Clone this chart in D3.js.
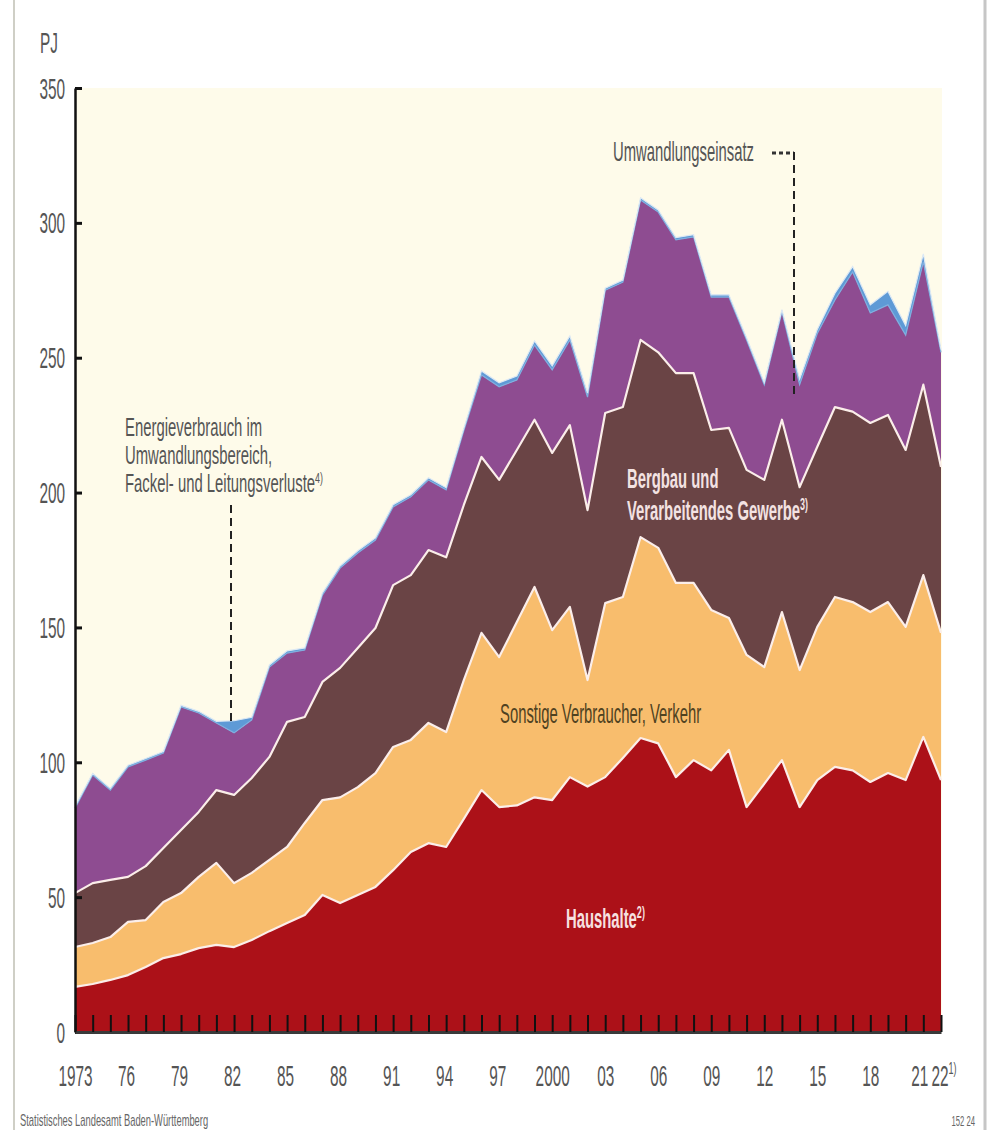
<!DOCTYPE html>
<html><head><meta charset="utf-8">
<script src="https://cdn.jsdelivr.net/npm/d3@7"></script>
<style>html,body{margin:0;padding:0;background:#fff;} svg{display:block;}</style>
</head><body>
<svg id="chart" width="987" height="1130"></svg>
<script>
// ---------- DATA ----------
const years = [1973,1974,1975,1976,1977,1978,1979,1980,1981,1982,
  1983,1984,1985,1986,1987,1988,1989,1990,1991,1992,
  1993,1994,1995,1996,1997,1998,1999,2000,2001,2002,
  2003,2004,2005,2006,2007,2008,2009,2010,2011,2012,
  2013,2014,2015,2016,2017,2018,2019,2020,2021,2022];
// PJ per series (stacked from bottom to top)
const haushalte = [16.7,17.8,19.3,21.1,24.1,27.4,28.9,31.1,32.3,31.5,
  34.1,37.4,40.4,43.4,50.8,47.8,50.8,53.8,60.0,66.7,
  70.0,68.6,79.0,89.7,83.4,84.0,87.0,86.0,94.5,91.0,
  94.5,101.6,109.0,107.0,94.5,100.8,97.0,104.6,83.4,92.0,
  100.8,83.4,93.4,98.3,97.0,92.7,96.0,93.4,109.4,93.4];
const sonstige = [14.8,15.2,15.9,19.7,17.4,20.8,22.6,26.4,30.4,23.7,
  24.9,26.4,28.2,34.1,35.2,39.2,40.0,42.2,45.7,41.6,
  44.6,42.6,51.5,58.3,55.6,68.0,78.0,63.0,63.1,39.5,
  64.5,59.7,74.5,72.5,72.0,65.7,59.5,48.9,56.4,43.3,
  54.9,50.8,56.8,63.0,62.4,63.0,63.4,56.8,60.0,54.6];
const bergbau = [20.0,22.2,21.2,16.7,20.0,20.0,23.4,24.1,27.0,32.7,
  35.2,38.2,46.4,39.3,43.8,48.0,51.6,53.8,60.0,61.1,
  64.1,64.8,64.9,65.2,65.7,63.8,62.0,65.7,67.4,63.0,
  70.5,70.4,73.1,72.5,77.8,77.8,66.7,70.5,68.6,69.4,
  71.3,67.8,66.8,70.4,70.6,70.1,69.4,65.6,70.6,61.5];
const umwandlungseinsatz = [31.5,40.1,33.3,40.8,39.3,35.2,45.6,36.7,24.9,23.0,
  21.5,33.3,25.5,24.8,32.2,37.0,35.2,32.6,29.0,29.0,
  26.0,25.0,27.6,30.4,34.5,25.9,27.7,30.8,31.6,41.9,
  45.5,46.3,51.9,52.0,49.4,50.5,49.3,48.5,48.2,35.3,
  40.0,38.0,42.0,39.7,51.8,40.8,40.8,42.6,45.5,42.5];
const energieverbrauch = [0.6,0.6,0.6,0.6,0.6,0.6,0.6,0.6,0.6,4.5,
  1.0,0.8,0.8,0.8,0.8,0.8,0.8,0.8,0.8,0.8,
  0.8,0.8,0.8,1.5,1.5,1.5,1.5,1.5,1.5,1.5,
  0.8,0.8,0.8,0.8,0.8,0.8,0.8,0.8,0.8,0.8,
  0.8,2.0,1.5,2.5,2.0,3.0,5.0,3.5,3.0,1.0];
const yTickValues = [0,50,100,150,200,250,300,350];
const xLabelYears = [1973,1976,1979,1982,1985,1988,1991,1994,1997,2000,2003,2006,2009,2012,2015,2018,2021,2022];
const xLabelTexts = ["1973","76","79","82","85","88","91","94","97","2000","03","06","09","12","15","18","21","22"];

(function () {
// ---------- LAYOUT / STYLE ----------
const W = 987, H = 1130;
const pLeft = 75, pRight = 941, pTop = 88, pBottom = 1032;
const FONT = '"Liberation Sans", Arial, sans-serif';
const SX = 0.53;
const colors = {h:"#AC1118", s:"#F8BD6D", b:"#6A4445", u:"#8E4C91", e:"#5E9AD6"};

const svg = d3.select("#chart");
svg.append("rect").attr("width", W).attr("height", H).attr("fill", "#fff");
svg.append("line").attr("x1",14).attr("x2",14).attr("y1",0).attr("y2",H)
  .attr("stroke","#cfcfc6").attr("stroke-width",2);
svg.append("line").attr("x1",985).attr("x2",985).attr("y1",0).attr("y2",H)
  .attr("stroke","#c6c6c6").attr("stroke-width",3);

const x = d3.scaleLinear().domain([years[0], years[years.length-1]]).range([pLeft, pRight]);
const y = d3.scaleLinear().domain([0, 350]).range([pBottom, pTop]);

svg.append("rect").attr("x", pLeft).attr("y", pTop)
  .attr("width", pRight - pLeft + 1).attr("height", pBottom - pTop).attr("fill", "#FEFBEA");

const table = years.map((yr, i) => ({year: yr, h: haushalte[i], s: sonstige[i], b: bergbau[i],
  u: umwandlungseinsatz[i], e: energieverbrauch[i]}));
const keys = ["h","s","b","u","e"];
const stacked = d3.stack().keys(keys)(table);

const area = d3.area().x(d => x(d.data.year)).y0(d => y(d[0])).y1(d => y(d[1]));
const topLine = d3.line().x(d => x(d.data.year)).y(d => y(d[1]));

svg.append("g").selectAll("path").data(stacked).join("path")
  .attr("d", area).attr("fill", d => colors[d.key]);

svg.append("g").selectAll("path").data(stacked.slice(0,3)).join("path")
  .attr("d", topLine).attr("fill","none").attr("stroke","#FBEEEA")
  .attr("stroke-width",2.2).attr("stroke-linejoin","round");
svg.append("path").datum(stacked[3]).attr("d", topLine).attr("fill","none")
  .attr("stroke","#7FAFDF").attr("stroke-width",1.2);
svg.append("path").datum(stacked[4]).attr("d", topLine).attr("fill","none")
  .attr("stroke","#DCE8F4").attr("stroke-width",1.2);

// ---------- AXES ----------
const yAxis = d3.axisLeft(y).tickValues(yTickValues).tickSizeInner(-7).tickSizeOuter(0)
  .tickPadding(0).tickFormat(d3.format("d"));
const gy = svg.append("g").attr("transform", `translate(${pLeft},0)`).call(yAxis);
gy.attr("font-family", FONT).attr("font-size", 29);
gy.select(".domain").attr("stroke","#111").attr("stroke-width",2.5);
gy.selectAll(".tick line").attr("stroke","#111").attr("stroke-width",3);
gy.selectAll(".tick text").attr("x", null).attr("dy", null)
  .attr("transform", "translate(-10,10) scale(" + SX + ",1)")
  .attr("fill", "#555").attr("text-anchor", "end");

const xAxis = d3.axisBottom(x).tickValues(years).tickSizeInner(-17).tickSizeOuter(0)
  .tickFormat(d => { const i = xLabelYears.indexOf(d); return i >= 0 ? xLabelTexts[i] : ""; });
const gx = svg.append("g").attr("transform", `translate(0,${pBottom})`).call(xAxis);
gx.attr("font-family", FONT).attr("font-size", 29);
gx.select(".domain").attr("stroke","#3a3a3a").attr("stroke-width",3);
gx.selectAll(".tick line").attr("stroke","#111").attr("stroke-width",2);
gx.selectAll(".tick text").attr("y", null).attr("dy", null)
  .attr("transform", d => {
    const dx = d === 2021 ? -4 : (d === 2022 ? -10 : (d > 1973 && d < 2000 ? -2 : 0));
    return `translate(${dx},54) scale(${SX},1)`;
  })
  .attr("fill", "#555")
  .attr("text-anchor", d => d === 2022 ? "start" : "middle");
gx.selectAll(".tick text").filter(d => d === 2022)
  .append("tspan").attr("dy", -12).attr("font-size", 17).text("1)");

// ---------- TEXT ----------
function label(px, py, parts, o) {
  const t = svg.append("text")
    .attr("transform", `translate(${px},${py}) scale(${o.sx || SX},1)`)
    .attr("font-family", FONT).attr("font-size", o.size || 28)
    .attr("font-weight", o.weight || "normal").attr("fill", o.fill || "#555")
    .attr("text-anchor", o.anchor || "start");
  parts.forEach(p => {
    if (typeof p === "string") t.append("tspan").text(p);
    else t.append("tspan").attr("dy", p.dy || -10).attr("font-size", p.size || 17).text(p.sup);
  });
  return t;
}

label(40, 53, ["PJ"], {size: 29, fill: "#555"});

const annSize = 25, annSx = 0.595;
label(125, 436, ["Energieverbrauch im"], {fill: "#555", size: annSize, sx: annSx});
label(125, 464, ["Umwandlungsbereich,"], {fill: "#555", size: annSize, sx: annSx});
label(125, 492, ["Fackel- und Leitungsverluste", {sup: "4)", size: 15, dy: -9}], {fill: "#555", size: annSize, sx: annSx});

const i82 = years.indexOf(1982);
svg.append("line").attr("x1", 231).attr("x2", 231).attr("y1", 505)
  .attr("y2", y(stacked[4][i82][1]) + 2)
  .attr("stroke", "#222").attr("stroke-width", 2).attr("stroke-dasharray", "8,5");

label(613, 161, ["Umwandlungseinsatz"], {fill: "#555"});
const i14 = years.indexOf(2014);
svg.append("line").attr("x1", 772).attr("x2", 794).attr("y1", 153).attr("y2", 153)
  .attr("stroke", "#333").attr("stroke-width", 3).attr("stroke-dasharray", "4,3");
svg.append("line").attr("x1", 794).attr("x2", 794).attr("y1", 152)
  .attr("y2", y(stacked[3][i14][1]) + 10)
  .attr("stroke", "#222").attr("stroke-width", 2).attr("stroke-dasharray", "8,5");

label(627, 488, ["Bergbau und"], {fill: "#F3E2E2", weight: "bold"});
label(627, 520, ["Verarbeitendes Gewerbe", {sup: "3)"}], {fill: "#F3E2E2", weight: "bold"});

label(500, 723, ["Sonstige Verbraucher, Verkehr"], {fill: "#4F4221"});

label(566, 928, ["Haushalte", {sup: "2)"}], {fill: "#F7E0E0", weight: "bold"});

label(20, 1126, ["Statistisches Landesamt Baden-Württemberg"], {size: 16, sx: 0.585, fill: "#666"});
label(975, 1126, ["152 24"], {size: 14, sx: 0.55, fill: "#666", anchor: "end"});
})();
</script>
</body></html>
